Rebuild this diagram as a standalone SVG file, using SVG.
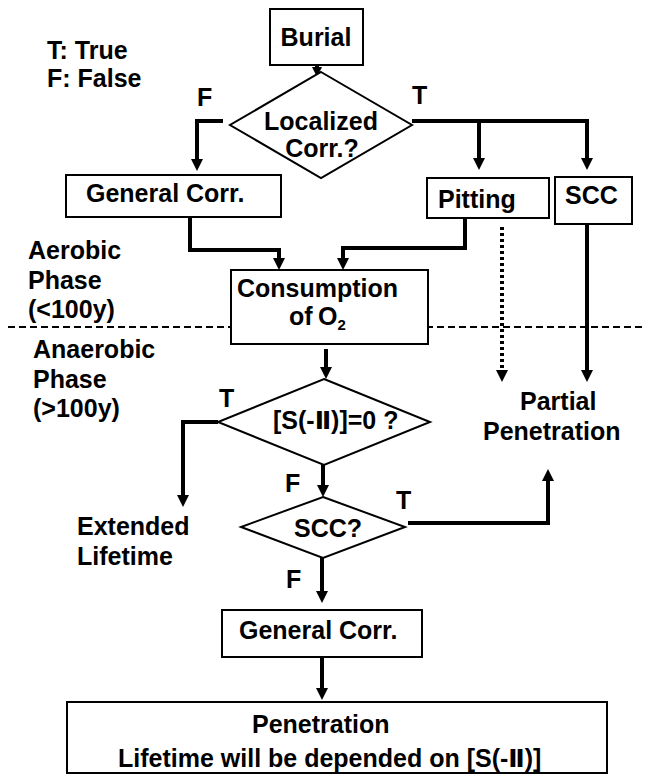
<svg xmlns="http://www.w3.org/2000/svg" width="645" height="776" viewBox="0 0 645 776">
<style>
.box{fill:#fff;stroke:#000;stroke-width:2}
.t{font-family:"Liberation Sans",Arial,"DejaVu Sans",sans-serif;font-weight:bold;font-size:25px;fill:#000}
.m{text-anchor:middle}
.c{fill:none;stroke:#000;stroke-width:4}
</style>
<defs>
<marker id="ah" viewBox="0 0 12 12" refX="2" refY="6" markerWidth="12" markerHeight="12" markerUnits="userSpaceOnUse" orient="auto">
<path d="M0,0 L12,6 L0,12 z" fill="#000"/>
</marker>
<marker id="ahs" viewBox="0 0 10 10" refX="2" refY="5" markerWidth="10" markerHeight="10" markerUnits="userSpaceOnUse" orient="auto">
<path d="M0,0 L10,5 L0,10 z" fill="#000"/>
</marker>
</defs>
<rect width="645" height="776" fill="#fff"/>
<g id="separator">
<path d="M8,327 H645" stroke="#000" stroke-width="2" stroke-dasharray="7,4" fill="none"/>
</g>
<g id="legend">
<text class="t" x="47" y="59">T: True</text>
<text class="t" x="47" y="87">F: False</text>
</g>
<g id="phases">
<text class="t" x="28" y="259">Aerobic</text>
<text class="t" x="28" y="289">Phase</text>
<text class="t" x="28" y="318">(&lt;100y)</text>
<text class="t" x="33" y="358">Anaerobic</text>
<text class="t" x="33" y="388">Phase</text>
<text class="t" x="33" y="417">(&gt;100y)</text>
</g>
<g id="connectors">
<path class="c" d="M317,65 V69" stroke-width="3" marker-end="url(#ahs)"/>
<path class="c" d="M223,121 H197 V161" marker-end="url(#ah)"/>
<path class="c" d="M412,121 H587 V160" marker-end="url(#ah)"/>
<path class="c" d="M479,121 V160" marker-end="url(#ah)"/>
<path class="c" d="M190,217 V250 H279 V260" marker-end="url(#ah)"/>
<path class="c" d="M465,218 V248 H343 V260" marker-end="url(#ah)"/>
<path class="c" d="M502,227 V372" stroke-width="3.5" stroke-dasharray="3,3" marker-end="url(#ah)"/>
<path class="c" d="M587,224 V372" stroke-width="3" marker-end="url(#ah)"/>
<path class="c" d="M326,349 V369" marker-end="url(#ah)"/>
<path class="c" d="M218,422 H183 V497" marker-end="url(#ah)"/>
<path class="c" d="M323,465 V487" marker-end="url(#ah)"/>
<path class="c" d="M408,523 H548 V479" marker-end="url(#ah)"/>
<path class="c" d="M322,558 V593" marker-end="url(#ah)"/>
<path class="c" d="M322,657 V690" marker-end="url(#ah)"/>
</g>
<g id="burial">
<rect class="box" x="270" y="9" width="93" height="56"/>
<text class="t m" x="316" y="46">Burial</text>
</g>
<g id="localized">
<polygon class="box" points="321,72 412,125 321,178 230,125"/>
<text class="t m" x="321" y="130">Localized</text>
<text class="t m" x="322" y="157">Corr.?</text>
</g>
<g id="labels1">
<text class="t" x="197" y="106">F</text>
<text class="t" x="412" y="104">T</text>
</g>
<g id="general1">
<rect class="box" x="66" y="175" width="215" height="42"/>
<text class="t" x="86" y="202">General Corr.</text>
</g>
<g id="pitting">
<rect class="box" x="427" y="178" width="122" height="40"/>
<text class="t" x="438" y="208">Pitting</text>
</g>
<g id="scc">
<rect class="box" x="555" y="177" width="77" height="47"/>
<text class="t" x="565" y="204">SCC</text>
</g>
<g id="consumption">
<rect class="box" x="231" y="270" width="197" height="74"/>
<text class="t" x="237" y="297">Consumption</text>
<text class="t" x="289" y="325">of <tspan x="318">O</tspan><tspan font-size="15" dy="5">2</tspan></text>
</g>
<g id="partial">
<text class="t" x="520" y="410">Partial</text>
<text class="t" x="483" y="440">Penetration</text>
</g>
<g id="sulfide">
<polygon class="box" points="324,379 430,422 324,465 218,422"/>
<text class="t" x="273" y="429">[S(-Ⅱ)]=0 ?</text>
<text class="t" x="219" y="407">T</text>
<text class="t" x="285" y="492">F</text>
</g>
<g id="extended">
<text class="t" x="77" y="535">Extended</text>
<text class="t" x="77" y="565">Lifetime</text>
</g>
<g id="scc2">
<polygon class="box" points="323,497 405,527 323,558 241,527"/>
<text class="t" x="294" y="537">SCC?</text>
<text class="t" x="396" y="509">T</text>
<text class="t" x="286" y="588">F</text>
</g>
<g id="general2">
<rect class="box" x="222" y="610" width="200" height="47"/>
<text class="t" x="239" y="639">General Corr.</text>
</g>
<g id="penetration">
<rect class="box" x="67" y="702" width="540" height="71"/>
<text class="t" x="252" y="733">Penetration</text>
<text class="t" x="118" y="767">Lifetime will be depended on [S(-Ⅱ)]</text>
</g>
</svg>
